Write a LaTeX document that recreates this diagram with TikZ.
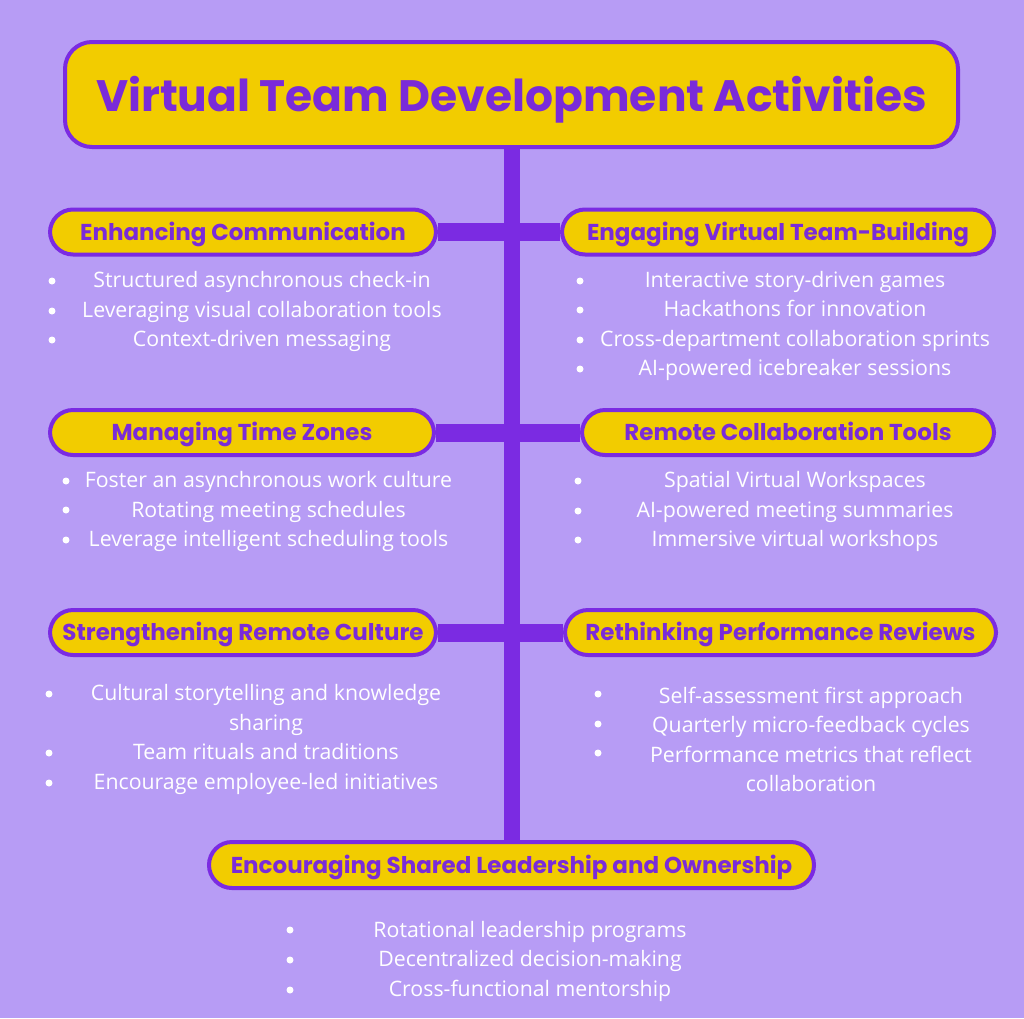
\documentclass[tikz,border=0pt]{standalone}
\usepackage{fontspec}
\setmainfont{Open Sans}
\newfontfamily\headfont{Poppins}
\usetikzlibrary{backgrounds}

\definecolor{bgviolet}{HTML}{B79CF5}
\definecolor{spine}{HTML}{7B2BE2}
\definecolor{boxyellow}{HTML}{F2CC00}
\definecolor{headpurple}{HTML}{7A2BD9}

\begin{document}
\begin{tikzpicture}[x=1pt,y=-1pt,
  topic/.style={draw=spine, line width=4pt, fill=boxyellow, rounded corners=23pt,
    minimum height=45pt, inner sep=0pt, text=headpurple,
    text height=21.5pt, text depth=5.5pt,
    font=\headfont\bfseries\fontsize{23}{26}\selectfont},
  points/.style={align=center, text=white, inner sep=0pt,
    font=\fontsize{21.3}{29.5}\selectfont},
  dot/.style={circle, fill=white, inner sep=0pt, minimum size=7pt},
  link/.style={spine, line width=18pt}]
\useasboundingbox (0,0) rectangle (1024,1018);

% title
\node[topic, rounded corners=27pt, minimum width=893pt, minimum height=105pt,
  text height=38pt, text depth=5pt,
  font=\headfont\bfseries\fontsize{44}{50}\selectfont] (title) at (511.5,94.5)
  {Virtual Team Development Activities};

% topic boxes
\node[topic, minimum width=386pt] (comm) at (243,232) {Enhancing Communication};
\node[topic, minimum width=432pt] (build) at (778,232) {Engaging Virtual Team-Building};
\node[topic, minimum width=384pt] (zones) at (242,432.5) {Managing Time Zones};
\node[topic, minimum width=412pt] (tools) at (788,432.5) {Remote Collaboration Tools};
\node[topic, minimum width=386pt] (culture) at (243,632.5) {Strengthening Remote Culture};
\node[topic, minimum width=431pt] (reviews) at (780.5,632.5) {Rethinking Performance Reviews};
\node[topic, minimum width=605pt, minimum height=46pt] (owner) at (511.5,865)
  {Encouraging Shared Leadership and Ownership};

% lists
\node[points] (commlist) at (262,311.5) {Structured asynchronous check-in\\
  Leveraging visual collaboration tools\\ Context-driven messaging};
\node[points] (buildlist) at (795,326) {Interactive story-driven games\\
  Hackathons for innovation\\ Cross-department collaboration sprints\\
  AI-powered icebreaker sessions};
\node[points] (zoneslist) at (268.5,511.5) {Foster an asynchronous work culture\\
  Rotating meeting schedules\\ Leverage intelligent scheduling tools};
\node[points] (toolslist) at (795,511.5) {Spatial Virtual Workspaces\\
  AI-powered meeting summaries\\ Immersive virtual workshops};
\node[points] (culturelist) at (266,739.5) {Cultural storytelling and knowledge\\
  sharing\\ Team rituals and traditions\\ Encourage employee-led initiatives};
\node[points] (reviewslist) at (811,739.5) {Self-assessment first approach\\
  Quarterly micro-feedback cycles\\ Performance metrics that reflect\\
  collaboration};
\node[points] (ownerlist) at (530,961) {Rotational leadership programs\\
  Decentralized decision-making\\ Cross-functional mentorship};

% bullets
\foreach \y in {281,311,340} \node[dot] at (52,\y) {};
\foreach \y in {281,310,340,369} \node[dot] at (580,\y) {};
\foreach \y in {481,510,540} \node[dot] at (66,\y) {};
\foreach \y in {481,511,540} \node[dot] at (578,\y) {};
\foreach \y in {694,753,783} \node[dot] at (49,\y) {};
\foreach \y in {694,724,753} \node[dot] at (598,\y) {};
\foreach \y in {930,960,990} \node[dot] at (290,\y) {};

\begin{pgfonlayer}{background}
\fill[bgviolet] (0,0) rectangle (1024,1018);
\draw[link, line width=16pt] (title.south) -- (owner.north);
\draw[link] (comm.east) -- (build.west);
\draw[link] (zones.east) -- (tools.west);
\draw[link] (culture.east) -- (reviews.west);
\end{pgfonlayer}
\end{tikzpicture}
\end{document}
